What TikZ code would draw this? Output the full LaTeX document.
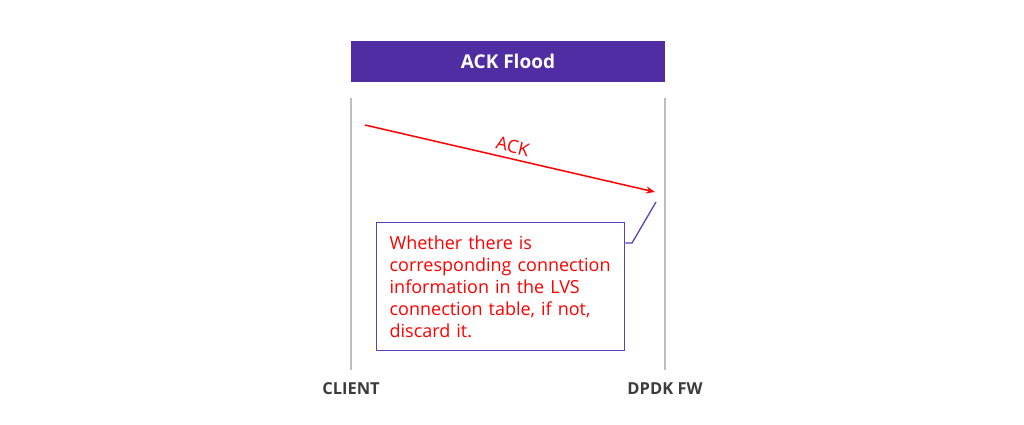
\documentclass[tikz,border=0pt]{standalone}
\usepackage{fontspec}
\setmainfont{Open Sans}
\usetikzlibrary{arrows.meta}
\definecolor{titlepurple}{RGB}{81,45,163}
\definecolor{boxpurple}{RGB}{92,64,190}
\definecolor{lifegray}{RGB}{190,190,190}
\definecolor{labelgray}{RGB}{60,60,60}
\definecolor{msgred}{RGB}{255,0,0}
\tikzset{
  titlebox/.style={fill=titlepurple, draw=none, text=white, font=\fontsize{19}{22}\selectfont\bfseries, inner sep=0pt},
  lifeline/.style={draw=lifegray, line width=2.5pt},
  actorlabel/.style={text=labelgray, font=\fontsize{16.5}{20}\selectfont\bfseries, inner sep=0pt},
  msg/.style={draw=msgred, line width=1.5pt, -{Stealth[length=9pt,width=7pt]}},
  msglabel/.style={text=msgred, font=\fontsize{18}{20}\selectfont, inner sep=1pt},
  notebox/.style={draw=boxpurple, line width=1.3pt, text=msgred, font=\fontsize{18}{22}\selectfont, align=left, text width=222pt, inner xsep=13pt, inner ysep=0pt, minimum width=248pt, minimum height=128pt, anchor=north west},
  noteline/.style={draw=boxpurple, line width=1.3pt}
}
\begin{document}
\begin{tikzpicture}[x=1pt,y=1pt]
\useasboundingbox (0,0) rectangle (1024,-425);
% title
\path[fill=titlepurple] (351,-41) rectangle (665,-82);
\node[titlebox] (title) at (508,-61.5) {ACK Flood};
% lifelines
\coordinate (ctop) at (351,-98);
\coordinate (cbot) at (351,-370);
\coordinate (ftop) at (665,-98);
\coordinate (fbot) at (665,-370);
\draw[lifeline] (ctop) -- (cbot);
\draw[lifeline] (ftop) -- (fbot);
\node[actorlabel] (client) at (351,-389) {CLIENT};
\node[actorlabel] (fw) at (665,-389) {DPDK FW};
% message
\coordinate (mstart) at (365,-125);
\coordinate (mend) at (655,-192);
\draw[msg] (mstart) -- node[msglabel, above=4pt, sloped, pos=0.5] (acklabel) {ACK} (mend);
% note
\node[notebox] (note) at (376,-222) {Whether there is\\corresponding connection\\information in the LVS\\connection table, if not,\\discard it.};
\coordinate (nbend) at (632,-243);
\coordinate (ntip) at (656,-202);
\draw[noteline] (note.east |- nbend) -- (nbend) -- (ntip);
\end{tikzpicture}
\end{document}
